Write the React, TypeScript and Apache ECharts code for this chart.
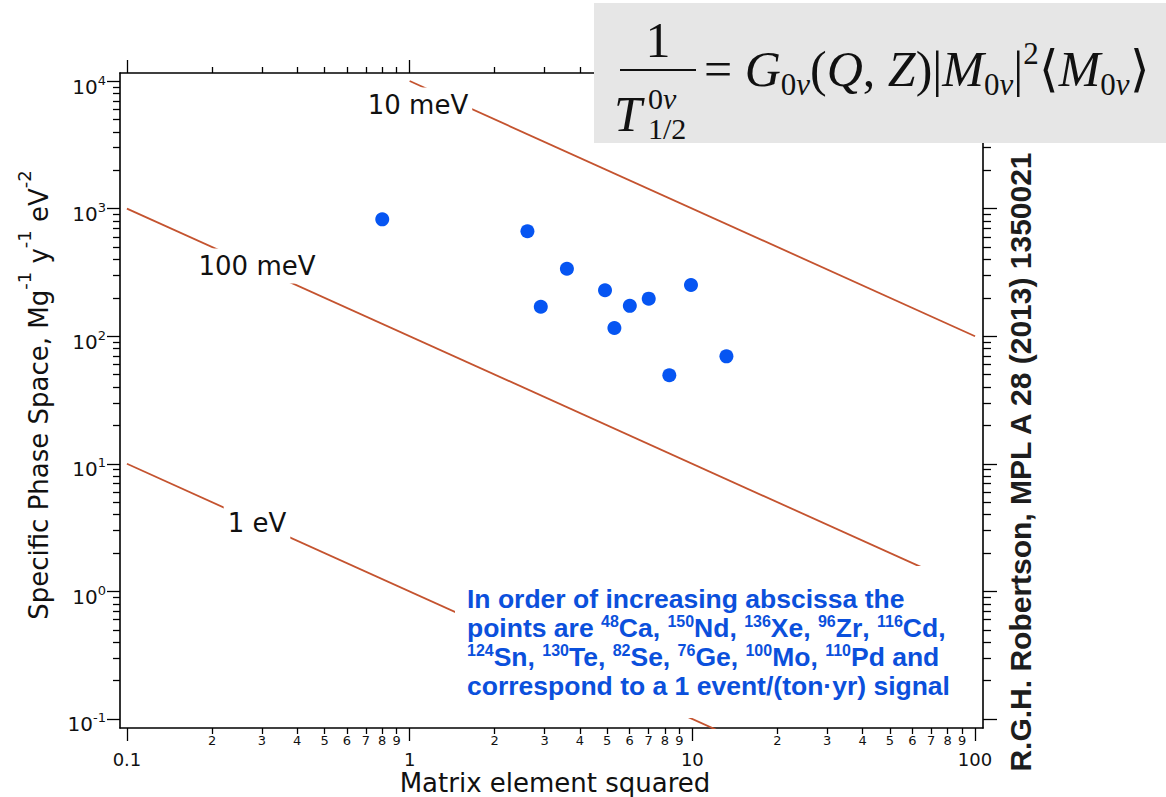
import React, { useEffect, useRef } from 'react';
import * as echarts from 'echarts';

// ---- data ----
const isotopeMass = [48, 150, 136, 96, 116, 124, 130, 82, 76, 100, 110];
const isotopeSymbol = ['Ca', 'Nd', 'Xe', 'Zr', 'Cd', 'Sn', 'Te', 'Se', 'Ge', 'Mo', 'Pd'];
const matrixElementSquared = [0.8, 2.61, 2.91, 3.6, 4.91, 5.3, 6.01, 7.01, 8.29, 9.89, 13.2];
const specificPhaseSpace = [824, 664, 170, 338, 229, 116, 173, 197, 49.4, 252, 69.5];

const massLineNames = ['10 meV', '100 meV', '1 eV'];
const massLineX = [[1, 100], [0.1, 100], [0.1, 100]];
const massLineY = [[10000, 100], [1000, 1], [10, 0.01]];

const xRange = [0.0945, 106.7];
const yRange = [0.085, 11554];
const xMajorTicks = [0.1, 1, 10, 100];
const xMajorLabels = ['0.1', '1', '10', '100'];
const xMinorDecades = [0.1, 1, 10];
const yMajorTicks = [0.1, 1, 10, 100, 1000, 10000];
const yMajorExponents = ['-1', '0', '1', '2', '3', '4'];
const yMinorDecades = [0.1, 1, 10, 100, 1000];
const minorDigits = [2, 3, 4, 5, 6, 7, 8, 9];

const xTitle = 'Matrix element squared';
const citation = 'R.G.H. Robertson, MPL A 28 (2013) 1350021';

const L = (v: number) => Math.log10(v);
const near = (arr: number[], v: number) => arr.findIndex((a) => Math.abs(a - v) < 1e-6);

const AXIS_FONT = 'DejaVu Sans';
const SERIF = 'Liberation Serif';
const INK = '#111';
const BLUE_TEXT = '#0b50dc';

function buildOption() {
  const xMin = L(xRange[0]);
  const xMax = L(xRange[1]);
  const yMin = L(yRange[0]);
  const yMax = L(yRange[1]);
  const xMajor = xMajorTicks.map(L);
  const xMinor = xMinorDecades.flatMap((d) => minorDigits.map((k) => L(k * d)));
  const yMajor = yMajorTicks.map(L);
  const yMinor = yMinorDecades.flatMap((d) => minorDigits.map((k) => L(k * d)));

  const lineOn = { show: true, onZero: false, lineStyle: { color: '#000', width: 1.6 } };
  const lineOff = { show: false, onZero: false };
  const tick = (vals: number[], len: number) => ({
    show: true,
    inside: false,
    length: len,
    customValues: vals,
    lineStyle: { color: '#000', width: 1.3 },
  });
  const xBase = { type: 'value', min: xMin, max: xMax, splitLine: { show: false } };
  const yBase = { type: 'value', min: yMin, max: yMax, splitLine: { show: false } };

  const iso = (i: number) => `{s|${isotopeMass[i]}}{b|${isotopeSymbol[i]}}`;
  const line2 = '{b|points are }' + [0, 1, 2, 3, 4].map(iso).join('{b|, }') + '{b|,}';
  const line3 = [5, 6, 7, 8, 9, 10].map(iso).join('{b|, }') + '{b| and}';
  const noteText = [
    '{b|In order of increasing abscissa the}',
    line2,
    line3,
    '{b|correspond to a 1 event/(ton·yr) signal}',
  ].join('\n');

  const lineLabelStyle = (text: string) => ({
    text,
    fontSize: 26,
    fontFamily: AXIS_FONT,
    fill: INK,
    align: 'center',
    verticalAlign: 'middle',
    backgroundColor: '#fff',
    padding: [6, 4, 3, 4],
  });

  return {
    animation: false,
    backgroundColor: '#fff',
    grid: { left: 120, right: 183, top: 73, bottom: 69, containLabel: false, outerBoundsMode: 'none' },
    xAxis: [
      {
        ...xBase,
        position: 'bottom',
        axisLine: lineOn,
        axisTick: tick(xMajor, 13),
        axisLabel: {
          show: true,
          customValues: xMajor,
          formatter: (v: number) => xMajorLabels[near(xMajor, v)] ?? '',
          margin: 22,
          fontSize: 18,
          color: INK,
          fontFamily: AXIS_FONT,
        },
      },
      {
        ...xBase,
        position: 'bottom',
        axisLine: lineOff,
        axisTick: tick(xMinor, 6),
        axisLabel: {
          show: true,
          customValues: xMinor,
          formatter: (v: number) => String(minorDigits[near(xMinor, v) % minorDigits.length]),
          margin: 6,
          fontSize: 13,
          color: INK,
          fontFamily: AXIS_FONT,
        },
      },
      { ...xBase, position: 'top', axisLine: lineOn, axisTick: tick(xMajor, 13), axisLabel: { show: false } },
      { ...xBase, position: 'top', axisLine: lineOff, axisTick: tick(xMinor, 6), axisLabel: { show: false } },
    ],
    yAxis: [
      {
        ...yBase,
        position: 'left',
        axisLine: lineOn,
        axisTick: tick(yMajor, 13),
        axisLabel: {
          show: true,
          customValues: yMajor,
          formatter: (v: number) => `{b|10}{s|${yMajorExponents[near(yMajor, v)] ?? ''}}`,
          margin: 14,
          padding: [11, 0, 0, 0],
          rich: {
            b: { fontSize: 20, fontFamily: AXIS_FONT, color: INK, lineHeight: 26 },
            s: { fontSize: 13, fontFamily: AXIS_FONT, color: INK, lineHeight: 14, verticalAlign: 'top' },
          },
        },
      },
      { ...yBase, position: 'left', axisLine: lineOff, axisTick: tick(yMinor, 7), axisLabel: { show: false } },
      { ...yBase, position: 'right', axisLine: lineOn, axisTick: tick(yMajor, 14), axisLabel: { show: false } },
      { ...yBase, position: 'right', axisLine: lineOff, axisTick: tick(yMinor, 8), axisLabel: { show: false } },
    ],
    series: [
      ...massLineNames.map((name, i) => ({
        name,
        type: 'line',
        xAxisIndex: 0,
        yAxisIndex: 0,
        data: massLineX[i].map((x, j) => [L(x), L(massLineY[i][j])]),
        symbol: 'none',
        showSymbol: false,
        clip: true,
        z: 3,
        lineStyle: { color: '#c4532f', width: 1.8 },
      })),
      {
        name: 'isotopes',
        type: 'scatter',
        xAxisIndex: 0,
        yAxisIndex: 0,
        data: matrixElementSquared.map((x, i) => [L(x), L(specificPhaseSpace[i])]),
        symbol: 'circle',
        symbolSize: 14,
        z: 5,
        itemStyle: { color: '#0655f2', opacity: 1 },
      },
    ],
    graphic: [
      // curve labels
      { type: 'text', x: 418, y: 105, z: 100, style: lineLabelStyle(massLineNames[0]) },
      { type: 'text', x: 257, y: 266, z: 100, style: lineLabelStyle(massLineNames[1]) },
      { type: 'text', x: 257, y: 523, z: 100, style: lineLabelStyle(massLineNames[2]) },
      // x axis title
      {
        type: 'text',
        x: 555,
        y: 783,
        z: 100,
        style: {
          text: xTitle,
          fontSize: 26,
          fontFamily: AXIS_FONT,
          fill: INK,
          align: 'center',
          verticalAlign: 'middle',
        },
      },
      // y axis title
      {
        type: 'text',
        x: 39,
        y: 395,
        rotation: Math.PI / 2,
        z: 100,
        style: {
          text: '{a|Specific Phase Space, Mg}{s|-1}{a| y}{s|-1}{a| eV}{s|-2}',
          align: 'center',
          verticalAlign: 'middle',
          fill: INK,
          rich: {
            a: { fontSize: 26, fontFamily: AXIS_FONT, fill: INK, lineHeight: 48 },
            s: { fontSize: 18, fontFamily: AXIS_FONT, fill: INK, lineHeight: 20, verticalAlign: 'top' },
          },
        },
      },
      // citation
      {
        type: 'text',
        x: 1020,
        y: 462,
        rotation: Math.PI / 2,
        z: 100,
        style: {
          text: citation,
          fontSize: 30,
          fontWeight: 'bold',
          fontFamily: 'Liberation Sans',
          fill: '#1d1d1d',
          align: 'center',
          verticalAlign: 'middle',
        },
      },
      // annotation box
      {
        type: 'rect',
        z: 100,
        shape: { x: 455, y: 566, width: 527, height: 152 },
        style: { fill: '#fff' },
      },
      {
        type: 'text',
        x: 467,
        y: 584,
        z: 101,
        style: {
          text: noteText,
          align: 'left',
          verticalAlign: 'top',
          fill: BLUE_TEXT,
          rich: {
            b: { fontSize: 26.5, fontWeight: 'bold', fontFamily: 'Liberation Sans', fill: BLUE_TEXT, lineHeight: 29 },
            s: {
              fontSize: 16,
              fontWeight: 'bold',
              fontFamily: 'Liberation Sans',
              fill: BLUE_TEXT,
              lineHeight: 18,
              verticalAlign: 'top',
            },
          },
        },
      },
      // formula box
      {
        type: 'rect',
        z: 100,
        shape: { x: 594, y: 3, width: 572, height: 140 },
        style: { fill: '#e6e6e6' },
      },
      {
        type: 'text',
        x: 658,
        y: 40,
        z: 101,
        style: { text: '1', fontSize: 50, fontFamily: SERIF, fill: INK, align: 'center', verticalAlign: 'middle' },
      },
      {
        type: 'line',
        z: 101,
        shape: { x1: 620, y1: 70, x2: 696, y2: 70 },
        style: { stroke: INK, lineWidth: 2 },
      },
      {
        type: 'text',
        x: 614,
        y: 114,
        z: 101,
        style: {
          text: 'T',
          fontSize: 50,
          fontStyle: 'italic',
          fontFamily: SERIF,
          fill: INK,
          align: 'left',
          verticalAlign: 'middle',
        },
      },
      {
        type: 'text',
        x: 648,
        y: 98,
        z: 101,
        style: {
          text: '{u|0}{i|ν}',
          align: 'left',
          verticalAlign: 'middle',
          fill: INK,
          rich: {
            u: { fontSize: 30, fontFamily: SERIF, fill: INK, lineHeight: 26 },
            i: { fontSize: 30, fontFamily: SERIF, fontStyle: 'italic', fill: INK, lineHeight: 26 },
          },
        },
      },
      {
        type: 'text',
        x: 648,
        y: 128,
        z: 101,
        style: { text: '1/2', fontSize: 30, fontFamily: SERIF, fill: INK, align: 'left', verticalAlign: 'middle', lineHeight: 26 },
      },
      {
        type: 'text',
        x: 704,
        y: 69,
        z: 101,
        style: {
          text:
            '{r|= }{i|G}{su|0}{si|ν}{r|(}{i|Q}{r|, }{i|Z}{r|)|}{i|M}{su|0}{si|ν}{r||}{sp|2}{r|⟨}{i|M}{su|0}{si|ν}{r|⟩}',
          align: 'left',
          verticalAlign: 'middle',
          fill: INK,
          rich: {
            r: { fontSize: 50, fontFamily: SERIF, fill: INK, lineHeight: 62 },
            i: { fontSize: 50, fontFamily: SERIF, fontStyle: 'italic', fill: INK, lineHeight: 62 },
            su: { fontSize: 31, fontFamily: SERIF, fill: INK, lineHeight: 30, verticalAlign: 'bottom' },
            si: { fontSize: 31, fontFamily: SERIF, fontStyle: 'italic', fill: INK, lineHeight: 30, verticalAlign: 'bottom' },
            sp: { fontSize: 31, fontFamily: SERIF, fill: INK, lineHeight: 40, verticalAlign: 'top' },
          },
        },
      },
    ],
  };
}

export default function App() {
  const ref = useRef<HTMLDivElement>(null);
  useEffect(() => {
    if (!ref.current) return;
    const chart = echarts.init(ref.current, undefined, { renderer: 'svg' });
    chart.setOption(buildOption() as any);
    return () => chart.dispose();
  }, []);
  return (
    <div
      ref={ref}
      style={{ position: 'fixed', left: 0, top: 0, width: 1166, height: 797, background: '#fff' }}
    />
  );
}
